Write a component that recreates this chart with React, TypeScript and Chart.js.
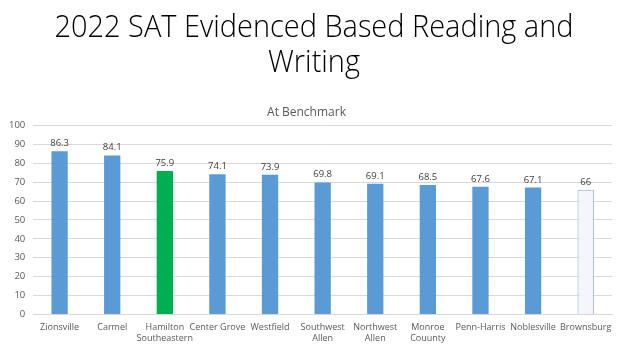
import React, { useEffect, useRef } from "react";
import { Chart, registerables } from "chart.js";

Chart.register(...registerables);

const schools: string[][] = [
  ["Zionsville"],
  ["Carmel"],
  ["Hamilton", "Southeastern"],
  ["Center Grove"],
  ["Westfield"],
  ["Southwest", "Allen"],
  ["Northwest", "Allen"],
  ["Monroe", "Couunty"],
  ["Penn-Harris"],
  ["Noblesville"],
  ["Brownsburg"],
];
const benchmarkValues: number[] = [86.3, 84.1, 75.9, 74.1, 73.9, 69.8, 69.1, 68.5, 67.6, 67.1, 66];
const valueLabels: string[] = ["86.3", "84.1", "75.9", "74.1", "73.9", "69.8", "69.1", "68.5", "67.6", "67.1", "66"];
const titleLines: string[] = ["2022 SAT Evidenced Based Reading and", "Writing"];
const subtitleText = "At Benchmark";

const BLUE = "#5B9BD5";
const GREEN = "#00B050";
const fillColors = schools.map((s, i) =>
  i === 2 ? GREEN : i === schools.length - 1 ? "#F4F6FC" : BLUE
);
const borderColors = schools.map((s, i) => (i === schools.length - 1 ? "#8EA9DB" : "rgba(0,0,0,0)"));
const borderWidths = schools.map((s, i) => (i === schools.length - 1 ? 1 : 0));

const FONT = "'Open Sans', sans-serif";

const slideTitlePlugin = {
  id: "slideTitle",
  afterDraw(chart: any) {
    const ctx = chart.ctx;
    ctx.save();
    ctx.font = "300 31px " + FONT;
    ctx.fillStyle = "#000000";
    ctx.textAlign = "center";
    ctx.textBaseline = "alphabetic";
    const w = ctx.measureText(titleLines[0]).width;
    const sx = Math.min(1, 519 / w);
    const cx = chart.width / 2 + 2;
    ctx.translate(cx, 0);
    ctx.scale(sx, 1);
    ctx.fillText(titleLines[0], 0, 37);
    ctx.fillText(titleLines[1], 0, 72);
    ctx.restore();
  },
};

const valueLabelPlugin = {
  id: "valueLabels",
  afterDatasetsDraw(chart: any) {
    const ctx = chart.ctx;
    const meta = chart.getDatasetMeta(0);
    ctx.save();
    ctx.font = "9.5px " + FONT;
    ctx.fillStyle = "#404040";
    ctx.textAlign = "center";
    ctx.textBaseline = "bottom";
    meta.data.forEach((bar: any, i: number) => {
      ctx.fillText(valueLabels[i], bar.x, bar.y - 3);
    });
    ctx.restore();
  },
};

export default function App() {
  const ref = useRef<HTMLCanvasElement | null>(null);
  useEffect(() => {
    document.body.style.margin = "0";
    const chart = new Chart(ref.current as HTMLCanvasElement, {
      type: "bar",
      data: {
        labels: schools,
        datasets: [
          {
            data: benchmarkValues,
            backgroundColor: fillColors,
            borderColor: borderColors,
            borderWidth: borderWidths,
            barPercentage: 0.31,
            categoryPercentage: 1,
          },
        ],
      },
      options: {
        animation: false,
        responsive: false,
        maintainAspectRatio: false,
        layout: { padding: { left: 1, right: 12, top: 105, bottom: 0 } },
        plugins: {
          legend: { display: false },
          tooltip: { enabled: false },
          title: { display: false },
          subtitle: {
            display: true,
            text: subtitleText,
            color: "#595959",
            font: { family: FONT, size: 12, lineHeight: 1.2 },
            padding: { top: 0, bottom: 6 },
          },
        },
        scales: {
          x: {
            grid: { display: false, drawTicks: false },
            border: { display: true, color: "#D9D9D9" },
            ticks: {
              color: "#595959",
              font: { family: FONT, size: 9, lineHeight: 1.2 },
              maxRotation: 0,
              autoSkip: false,
              padding: 8,
            },
          },
          y: {
            min: 0,
            max: 100,
            ticks: {
              stepSize: 10,
              color: "#595959",
              font: { family: FONT, size: 9.5 },
              padding: 8,
            },
            grid: { color: "#D9D9D9", drawTicks: false },
            border: { display: false },
          },
        },
      },
      plugins: [valueLabelPlugin, slideTitlePlugin],
    });
    return () => chart.destroy();
  }, []);
  return (
    <div style={{ width: 624, height: 352, background: "#ffffff" }}>
      <canvas ref={ref} width={624} height={352} />
    </div>
  );
}
